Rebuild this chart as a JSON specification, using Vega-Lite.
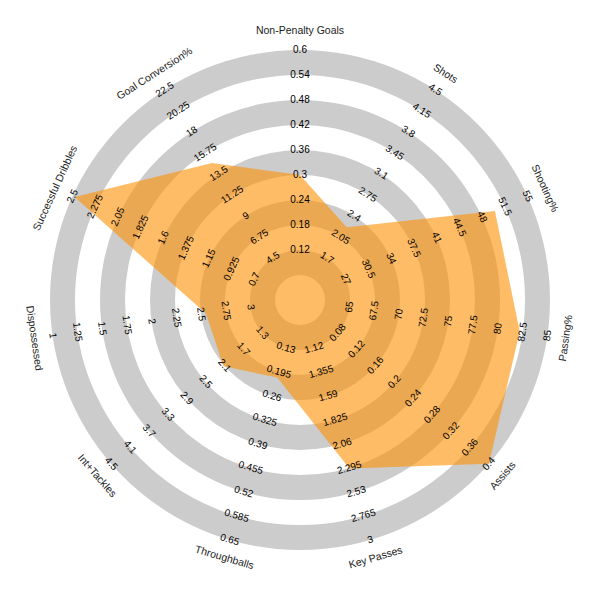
{
  "$schema": "https://vega.github.io/schema/vega-lite/v6.json",
  "width": 600,
  "height": 600,
  "autosize": {"type": "fit", "contains": "padding"},
  "padding": 0,
  "background": "white",
  "config": {"view": {"stroke": null}},
  "datasets": {
    "rings": [
      {"inner": 1, "outer": 2},
      {"inner": 3, "outer": 4},
      {"inner": 5, "outer": 6},
      {"inner": 7, "outer": 8},
      {"inner": 9, "outer": 10}
    ],
    "params": [
      {"param": "Non-Penalty Goals", "i": 0, "lo": 0.06, "hi": 0.6, "value": 0.3, "ticks": [0.12, 0.18, 0.24, 0.3, 0.36, 0.42, 0.48, 0.54, 0.6]},
      {"param": "Shots", "i": 1, "lo": 1.35, "hi": 4.5, "value": 2.21, "ticks": [1.7, 2.05, 2.4, 2.75, 3.1, 3.45, 3.8, 4.15, 4.5]},
      {"param": "Shooting%", "i": 2, "lo": 23.5, "hi": 55, "value": 50, "ticks": [27, 30.5, 34, 37.5, 41, 44.5, 48, 51.5, 55]},
      {"param": "Passing%", "i": 3, "lo": 62.5, "hi": 85, "value": 82.2, "ticks": [65, 67.5, 70, 72.5, 75, 77.5, 80, 82.5, 85]},
      {"param": "Assists", "i": 4, "lo": 0.04, "hi": 0.4, "value": 0.4, "ticks": [0.08, 0.12, 0.16, 0.2, 0.24, 0.28, 0.32, 0.36, 0.4]},
      {"param": "Key Passes", "i": 5, "lo": 0.885, "hi": 3, "value": 2.3, "ticks": [1.12, 1.355, 1.59, 1.825, 2.06, 2.295, 2.53, 2.765, 3]},
      {"param": "Throughballs", "i": 6, "lo": 0.065, "hi": 0.65, "value": 0.21, "ticks": [0.13, 0.195, 0.26, 0.325, 0.39, 0.455, 0.52, 0.585, 0.65]},
      {"param": "Int+Tackles", "i": 7, "lo": 0.9, "hi": 4.5, "value": 2.12, "ticks": [1.3, 1.7, 2.1, 2.5, 2.9, 3.3, 3.7, 4.1, 4.5]},
      {"param": "Dispossessed", "i": 8, "lo": 3.25, "hi": 1, "value": 2.55, "ticks": [3, 2.75, 2.5, 2.25, 2, 1.75, 1.5, 1.25, 1]},
      {"param": "Successful Dribbles", "i": 9, "lo": 0.475, "hi": 2.5, "value": 2.48, "ticks": [0.7, 0.925, 1.15, 1.375, 1.6, 1.825, 2.05, 2.275, 2.5]},
      {"param": "Goal Conversion%", "i": 10, "lo": 2.25, "hi": 22.5, "value": 14.65, "ticks": [4.5, 6.75, 9, 11.25, 13.5, 15.75, 18, 20.25, 22.5]}
    ]
  },
  "layer": [
    {
      "data": {"name": "rings"},
      "mark": {"type": "arc", "theta": 0, "theta2": 6.283185307, "color": "#cccccc"},
      "encoding": {
        "radius": {"field": "outer", "type": "quantitative", "scale": {"type": "linear", "domain": [0, 12], "range": [0, 300], "zero": true, "nice": false}},
        "radius2": {"field": "inner"}
      }
    },
    {
      "data": {"name": "params"},
      "transform": [
        {"calculate": "datum.i * 2 * PI / 11", "as": "a"},
        {"calculate": "1 + 9 * (datum.value - datum.lo) / (datum.hi - datum.lo)", "as": "r"},
        {"calculate": "datum.r * sin(datum.a)", "as": "px"},
        {"calculate": "datum.r * cos(datum.a)", "as": "py"}
      ],
      "mark": {"type": "line", "interpolate": "linear-closed", "fill": "#ff9000", "fillOpacity": 0.6, "strokeOpacity": 0},
      "encoding": {
        "x": {"field": "px", "type": "quantitative", "scale": {"domain": [-12, 12], "nice": false, "zero": false}, "axis": null},
        "y": {"field": "py", "type": "quantitative", "scale": {"domain": [-12, 12], "nice": false, "zero": false}, "axis": null},
        "order": {"field": "i", "type": "quantitative"}
      }
    },
    {
      "data": {"name": "params"},
      "transform": [
        {"flatten": ["ticks"], "as": ["tick"]},
        {"calculate": "datum.i * 2 * PI / 11", "as": "a"},
        {"calculate": "datum.i * 360 / 11", "as": "deg"},
        {"calculate": "datum.deg > 90 && datum.deg < 270 ? datum.deg - 180 : (datum.deg >= 270 ? datum.deg - 360 : datum.deg)", "as": "rot"},
        {"calculate": "1 + 9 * (datum.tick - datum.lo) / (datum.hi - datum.lo)", "as": "r"},
        {"calculate": "datum.r * sin(datum.a)", "as": "px"},
        {"calculate": "datum.r * cos(datum.a)", "as": "py"}
      ],
      "mark": {"type": "text", "font": "Liberation Sans", "fontSize": 10, "color": "#000000", "align": "center", "baseline": "middle"},
      "encoding": {
        "x": {"field": "px", "type": "quantitative", "scale": {"domain": [-12, 12], "nice": false, "zero": false}, "axis": null},
        "y": {"field": "py", "type": "quantitative", "scale": {"domain": [-12, 12], "nice": false, "zero": false}, "axis": null},
        "text": {"field": "tick", "type": "nominal"},
        "angle": {"field": "rot", "type": "quantitative", "scale": null}
      }
    },
    {
      "data": {"name": "params"},
      "transform": [
        {"calculate": "datum.i * 2 * PI / 11", "as": "a"},
        {"calculate": "datum.i * 360 / 11", "as": "deg"},
        {"calculate": "datum.deg > 90 && datum.deg < 270 ? datum.deg - 180 : (datum.deg >= 270 ? datum.deg - 360 : datum.deg)", "as": "rot"},
        {"calculate": "10.75 * sin(datum.a)", "as": "px"},
        {"calculate": "10.75 * cos(datum.a)", "as": "py"}
      ],
      "mark": {"type": "text", "font": "Liberation Sans", "fontSize": 10.5, "color": "#222222", "align": "center", "baseline": "middle"},
      "encoding": {
        "x": {"field": "px", "type": "quantitative", "scale": {"domain": [-12, 12], "nice": false, "zero": false}, "axis": null},
        "y": {"field": "py", "type": "quantitative", "scale": {"domain": [-12, 12], "nice": false, "zero": false}, "axis": null},
        "text": {"field": "param", "type": "nominal"},
        "angle": {"field": "rot", "type": "quantitative", "scale": null}
      }
    }
  ]
}
